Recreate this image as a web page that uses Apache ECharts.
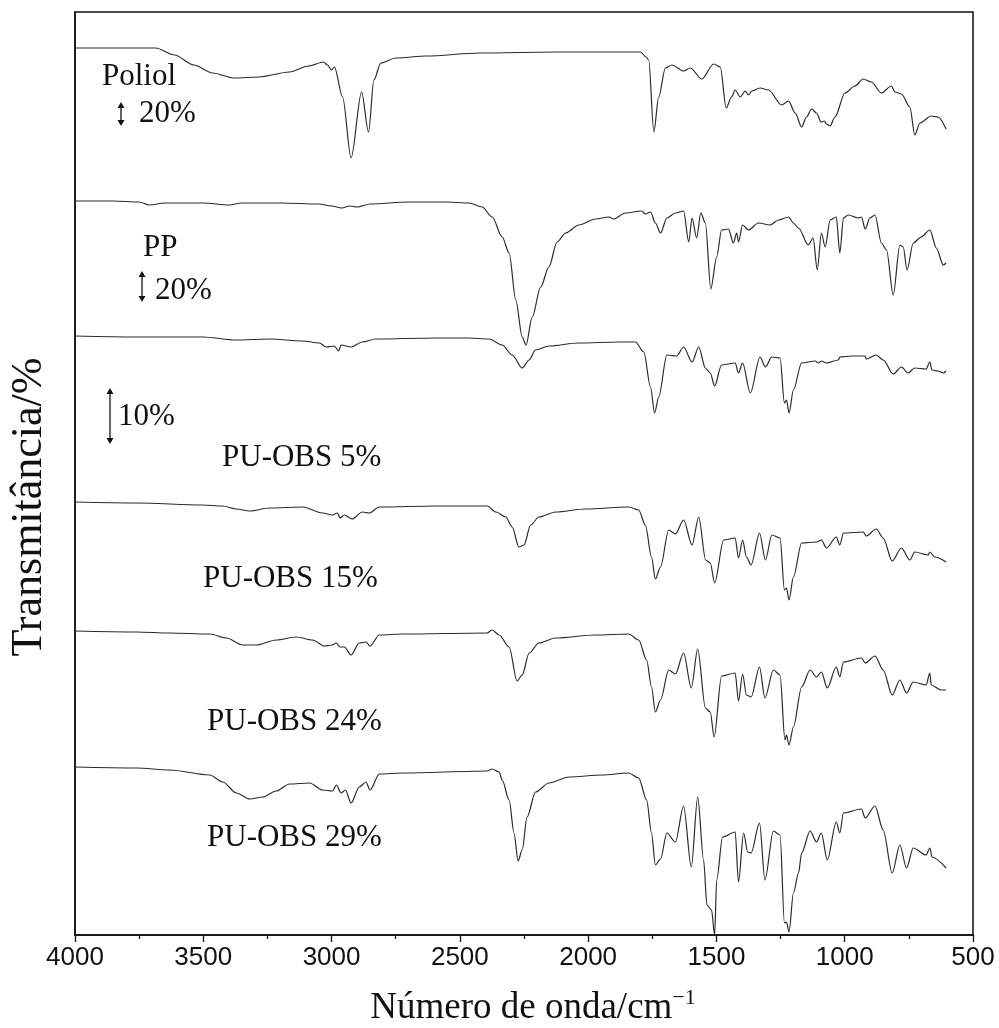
<!DOCTYPE html>
<html>
<head>
<meta charset="utf-8">
<script src="https://cdn.jsdelivr.net/npm/echarts@6/dist/echarts.min.js"></script>
<style>
html,body{margin:0;padding:0;background:#fff;}
#chart{width:999px;height:1028px;}
</style>
</head>
<body>
<div id="chart"></div>
<script>
// x: wavenumber (cm-1), y: offset transmittance (arbitrary stacked units)
const xTicks = [500, 1000, 1500, 2000, 2500, 3000, 3500, 4000];
const seriesNames = ['Poliol', 'PP', 'PU-OBS 5%', 'PU-OBS 15%', 'PU-OBS 24%', 'PU-OBS 29%'];

const poliol = [[4000,887],[3800,887],[3686,887],[3612,880],[3537,870],[3463,862],[3381,857],[3284,858],[3164,863],[3090,869],[3031,873],[3016,870],[3000,865],[2989,868],[2957,838],[2924,777],[2883,843],[2856,803],[2835,855],[2808,872],[2749,877],[2631,879],[2421,882],[2124,883],[1900,883],[1796,883],[1774,878],[1764,875],[1744,803],[1725,838],[1699,867],[1674,870],[1628,864],[1602,867],[1557,856],[1511,871],[1485,868],[1462,827],[1441,838],[1427,845],[1407,838],[1388,844],[1375,840],[1362,844],[1330,847],[1297,845],[1246,830],[1219,834],[1193,822],[1168,808],[1149,818],[1129,826],[1110,822],[1092,813],[1079,814],[1071,811],[1057,809],[1038,818],[999,842],[960,849],[928,856],[896,853],[857,842],[818,849],[804,843],[779,841],[746,828],[727,800],[707,812],[663,819],[636,818],[605,806]];

const pp = [[4000,734],[3850,734],[3750,733],[3710,730],[3650,732],[3500,732],[3400,730],[3350,732],[3200,732],[3050,731],[3000,729],[2960,727],[2930,729],[2900,728],[2850,731],[2700,733],[2550,733],[2464,732],[2413,728],[2374,718],[2335,698],[2308,682],[2282,635],[2257,598],[2242,590],[2218,618],[2185,648],[2153,668],[2121,693],[2088,702],[2036,710],[1971,716],[1919,718],[1900,716],[1855,722],[1791,724],[1777,721],[1757,723],[1738,712],[1718,702],[1693,717],[1660,722],[1628,724],[1608,693],[1595,717],[1577,697],[1561,722],[1543,712],[1522,646],[1499,678],[1480,705],[1453,706],[1434,692],[1421,702],[1414,693],[1398,710],[1375,705],[1336,712],[1291,710],[1258,715],[1219,718],[1200,712],[1180,707],[1142,690],[1123,697],[1107,665],[1091,702],[1076,688],[1057,715],[1033,718],[1019,682],[1005,717],[986,720],[947,717],[935,718],[920,706],[902,717],[882,720],[857,692],[837,685],[811,640],[785,690],[772,688],[757,665],[733,692],[702,698],[668,705],[643,687],[616,670],[605,672]];

const pu5 = [[4000,599],[3760,598],[3502,598],[3371,595],[3242,596],[3113,594],[3047,592],[3021,588],[2989,589],[2973,584],[2963,590],[2924,588],[2880,593],[2827,596],[2593,597],[2464,597],[2386,596],[2335,590],[2296,580],[2257,567],[2230,575],[2205,585],[2153,589],[2036,592],[1881,593],[1816,593],[1783,583],[1757,548],[1741,522],[1725,538],[1693,580],[1655,579],[1628,588],[1595,573],[1569,588],[1543,567],[1524,562],[1507,549],[1480,570],[1427,572],[1414,562],[1398,572],[1368,542],[1330,578],[1309,568],[1284,578],[1252,577],[1235,532],[1227,535],[1217,522],[1200,545],[1168,572],[1115,574],[1103,572],[1091,574],[1071,572],[1025,575],[1019,578],[973,579],[921,579],[916,576],[877,580],[850,575],[811,561],[779,568],[753,562],[727,567],[683,566],[668,573],[660,565],[636,564],[616,562],[605,564]];

const pu15 = [[4000,433],[3760,432],[3502,430],[3424,429],[3371,426],[3319,424],[3242,427],[3113,428],[3035,422],[2997,420],[2977,422],[2967,417],[2950,420],[2920,416],[2880,423],[2853,422],[2814,428],[2593,429],[2394,429],[2359,423],[2321,418],[2296,408],[2270,388],[2250,390],[2224,410],[2192,418],[2127,423],[2010,426],[1842,428],[1803,425],[1777,410],[1753,378],[1738,356],[1718,368],[1686,405],[1660,401],[1628,415],[1595,390],[1569,418],[1542,375],[1524,372],[1507,352],[1472,395],[1427,397],[1414,377],[1398,395],[1383,378],[1365,370],[1332,402],[1309,375],[1284,400],[1252,397],[1235,345],[1227,347],[1217,335],[1200,358],[1168,392],[1110,393],[1091,395],[1071,387],[1033,398],[1019,390],[1005,402],[928,403],[916,399],[877,406],[850,397],[815,374],[779,387],[746,375],[727,383],[675,380],[668,383],[649,378],[605,373]];

const pu24 = [[4000,304],[3760,303],[3631,302],[3475,301],[3410,297],[3346,290],[3293,290],[3216,295],[3138,298],[3074,295],[3028,289],[2997,290],[2982,292],[2967,288],[2950,288],[2924,280],[2892,292],[2866,293],[2850,289],[2814,300],[2724,301],[2394,302],[2374,305],[2347,300],[2308,288],[2277,254],[2257,260],[2230,282],[2192,292],[2127,297],[1971,300],[1842,301],[1803,295],[1772,275],[1753,248],[1738,223],[1718,235],[1686,265],[1660,261],[1628,282],[1598,247],[1573,286],[1543,227],[1524,223],[1509,198],[1480,259],[1427,262],[1414,234],[1398,261],[1383,240],[1365,238],[1332,268],[1311,237],[1278,265],[1252,260],[1233,195],[1227,200],[1217,190],[1200,208],[1168,248],[1135,265],[1110,258],[1091,263],[1068,247],[1033,268],[1019,258],[1005,273],[935,277],[920,272],[882,279],[850,265],[815,240],[785,255],[759,242],[733,253],[683,250],[668,262],[663,250],[624,245],[605,245]];

const pu29 = [[4000,168],[3760,167],[3631,165],[3475,160],[3424,153],[3371,142],[3319,136],[3268,138],[3216,144],[3164,151],[3086,152],[3035,145],[2997,144],[2981,150],[2963,142],[2946,145],[2924,132],[2892,148],[2866,153],[2850,145],[2814,161],[2724,162],[2394,164],[2374,166],[2347,163],[2335,155],[2308,135],[2289,102],[2273,74],[2257,85],[2238,118],[2205,143],[2153,152],[2075,158],[1946,160],[1842,162],[1803,157],[1772,135],[1753,102],[1738,70],[1718,76],[1693,102],[1660,93],[1628,129],[1598,68],[1573,138],[1550,75],[1537,30],[1519,25],[1507,0],[1499,55],[1476,98],[1427,103],[1414,53],[1394,102],[1378,83],[1365,82],[1332,112],[1311,55],[1278,104],[1252,100],[1235,12],[1227,13],[1217,3],[1200,42],[1180,62],[1168,82],[1135,104],[1110,93],[1091,102],[1068,75],[1033,113],[1019,102],[1005,122],[935,126],[920,117],[882,129],[850,105],[815,62],[785,90],[759,67],[733,87],[683,80],[668,87],[660,78],[605,67]];

const allData = [poliol, pp, pu5, pu15, pu24, pu29];

const SERIF = "'Liberation Serif','Times New Roman',serif";
const SANS = "'Liberation Sans',Arial,sans-serif";
const INK = '#111';

function arrow(x, y1, y2) {
  const h = 6, w = 3.5;
  return [
    {type:'line', shape:{x1:x, y1:y1 + h - 1, x2:x, y2:y2 - h + 1}, style:{stroke:INK, lineWidth:1.3}, silent:true},
    {type:'polygon', shape:{points:[[x, y1], [x - w, y1 + h], [x + w, y1 + h]]}, style:{fill:INK}, silent:true},
    {type:'polygon', shape:{points:[[x, y2], [x - w, y2 - h], [x + w, y2 - h]]}, style:{fill:INK}, silent:true}
  ];
}
function label(txt, x, y, size) {
  return {type:'text', x:x, y:y, silent:true,
    style:{text:txt, font: (size || 31) + 'px ' + SERIF, fill:INK, textAlign:'left', textVerticalAlign:'middle'}};
}

const chart = echarts.init(document.getElementById('chart'), null, {renderer:'canvas'});

const graphics = [].concat(
  [label('Poliol', 102, 77), label('20%', 139, 114)], arrow(121, 102, 126),
  [label('PP', 143, 248), label('20%', 155, 291)], arrow(142, 271, 302),
  [label('10%', 118, 417)], arrow(110, 388, 444),
  [label('PU-OBS 5%', 222, 458), label('PU-OBS 15%', 203, 579), label('PU-OBS 24%', 207, 722), label('PU-OBS 29%', 207, 838)],
  [
    {type:'text', x:533, y:1008, silent:true,
      style:{text:'{a|Número de onda/cm}{s|−1}', textAlign:'center', textVerticalAlign:'middle',
        rich:{a:{fontFamily:SERIF, fontSize:37, fill:INK, color:INK},
              s:{fontFamily:SERIF, fontSize:22, fill:INK, color:INK, padding:[0,0,20,0]}}}},
    {type:'text', x:29, y:507, rotation:Math.PI/2, silent:true,
      style:{text:'Transmitância/%', font:'44px ' + SERIF, fill:INK, textAlign:'center', textVerticalAlign:'middle'}}
  ]
);

chart.setOption({
  animation:false,
  backgroundColor:'#fff',
  grid:{left:75, right:26, top:12, bottom:93, show:true, borderColor:INK, borderWidth:1.5, backgroundColor:'transparent'},
  xAxis:{
    type:'value', min:xTicks[0], max:xTicks[xTicks.length-1], interval:500, inverse:true,
    axisLine:{show:true, lineStyle:{color:INK, width:1.5}},
    axisTick:{show:true, inside:false, length:7, lineStyle:{color:INK, width:1.3}},
    minorTick:{show:true, splitNumber:2, length:4, lineStyle:{color:INK, width:1.3}},
    axisLabel:{color:INK, fontFamily:SANS, fontSize:26, margin:10, formatter:(v) => String(v)},
    splitLine:{show:false}
  },
  yAxis:{
    type:'value', min:0, max:923,
    axisLine:{show:true, lineStyle:{color:INK, width:1.5}},
    axisTick:{show:false}, axisLabel:{show:false}, splitLine:{show:false}
  },
  series: allData.map((d, i) => ({
    name: seriesNames[i], type:'line', data:d, showSymbol:false, symbol:'none',
    smooth:0.3, smoothMonotone:'x',
    lineStyle:{color:'#2a2a2a', width:1.2}, clip:false, silent:true
  })),
  graphic: graphics
});
</script>
</body>
</html>
